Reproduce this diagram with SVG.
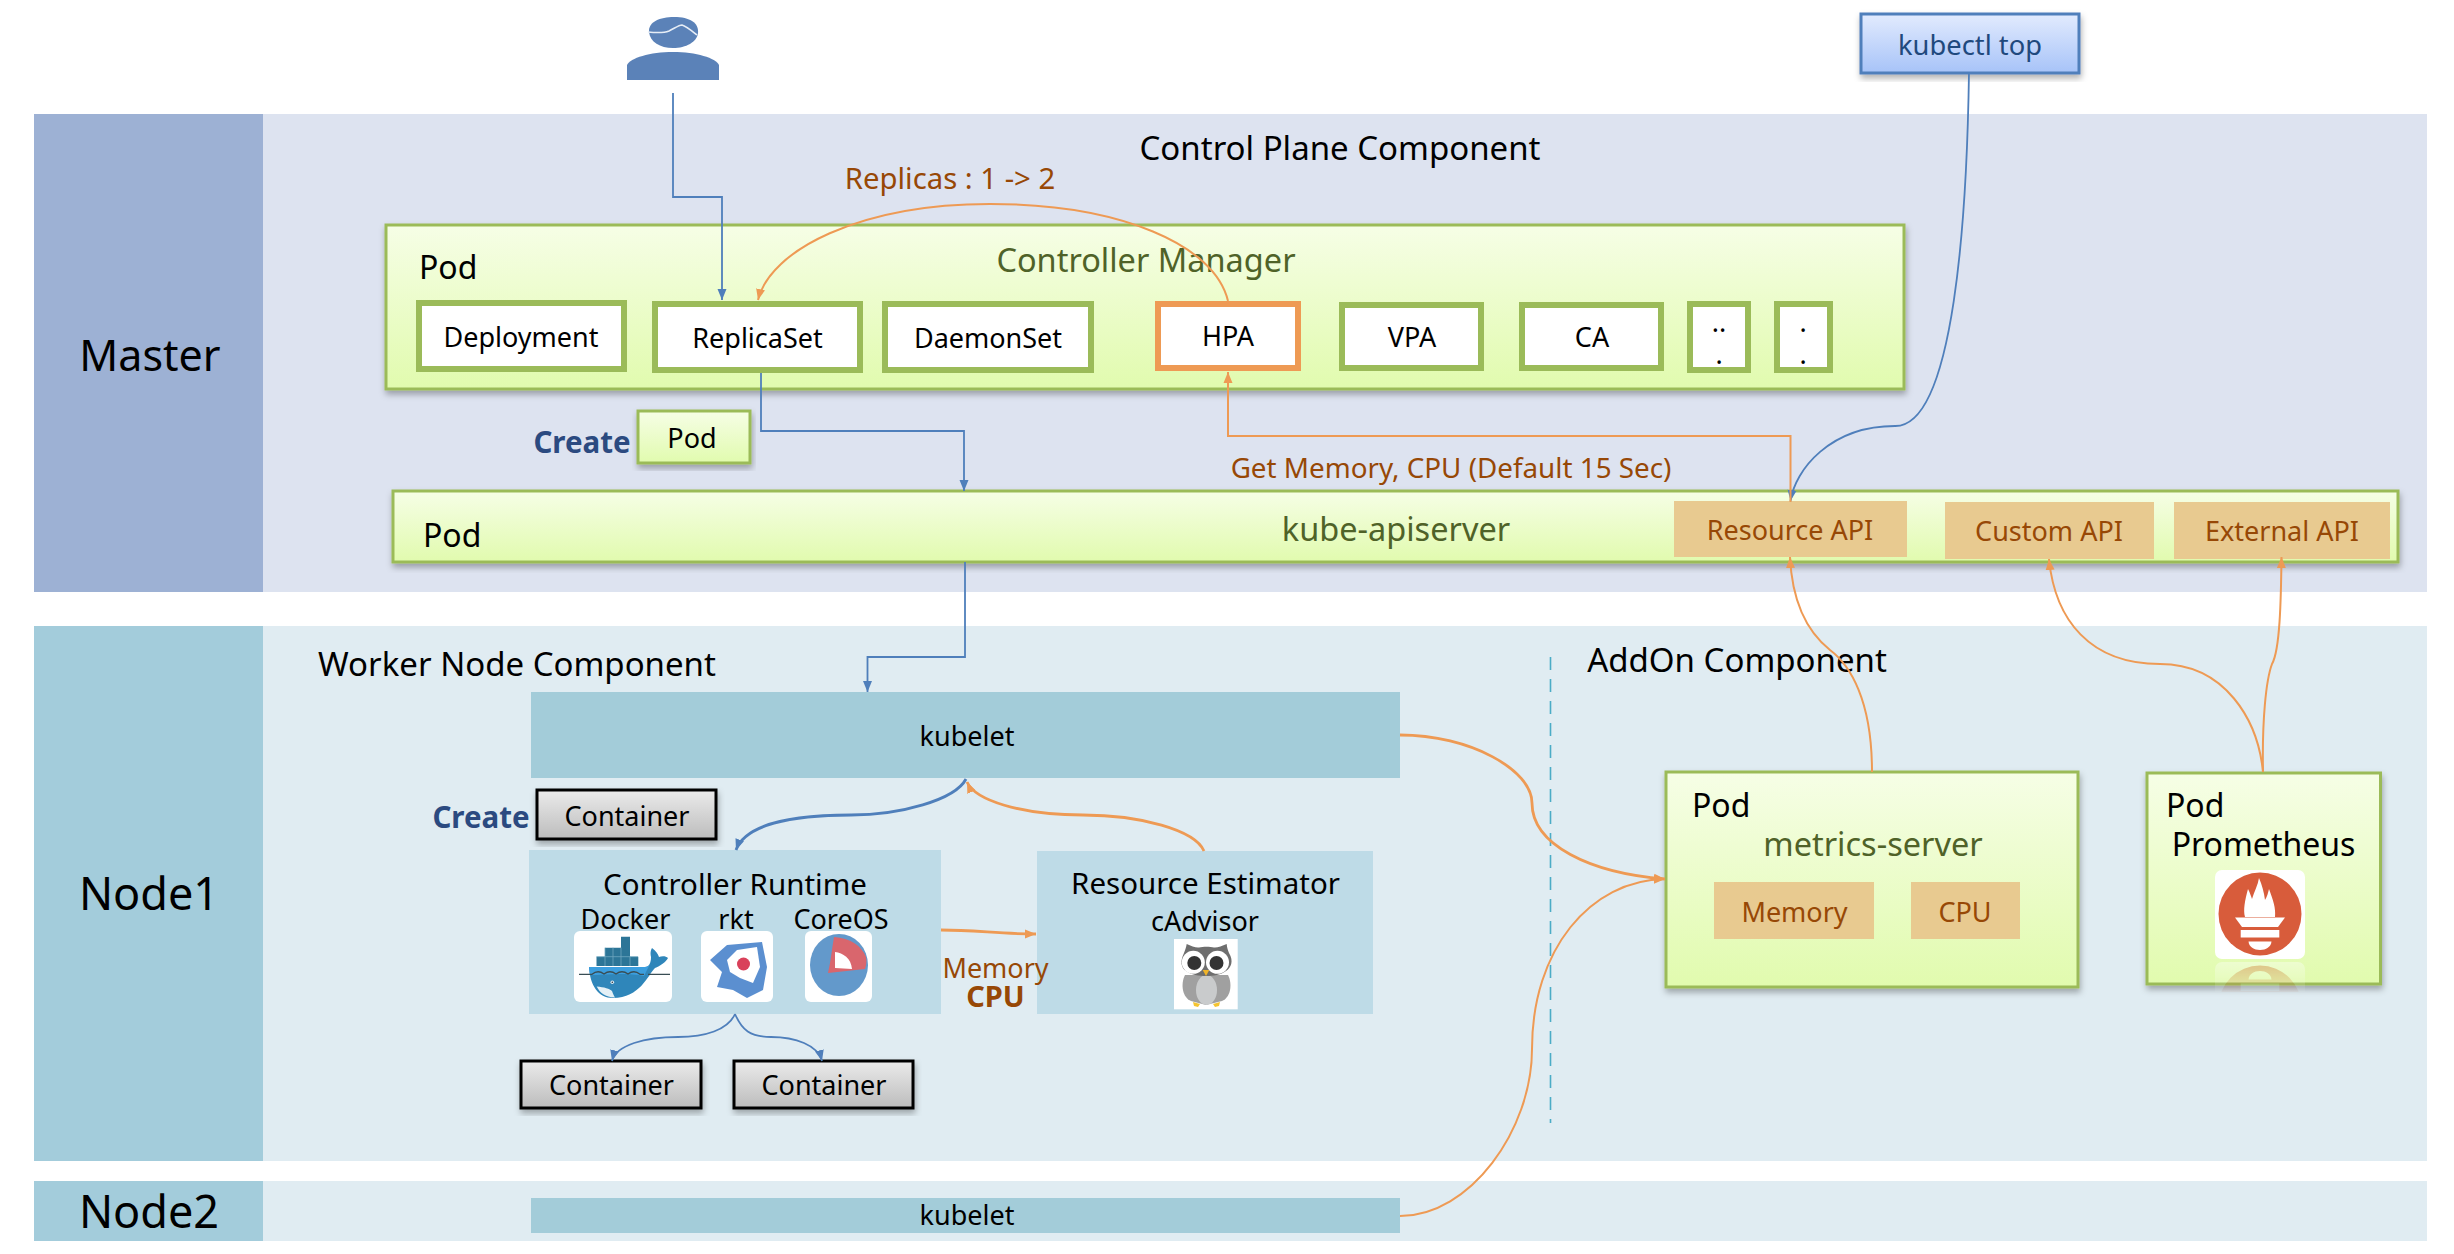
<svg xmlns="http://www.w3.org/2000/svg" xmlns:xlink="http://www.w3.org/1999/xlink" width="2454" height="1254" viewBox="0 0 2454 1254">
<style>
text{font-family:"Noto Sans","Noto Sans CJK KR",sans-serif;fill:#000;text-anchor:middle}
.s45{font-size:45px}.s43{font-size:43px}.s33{font-size:33px}.s325{font-size:32.5px}.s32{font-size:32px}.s30{font-size:29.5px}.s27{font-size:27px}
.start{text-anchor:start}
.brown{fill:#974806}.green{fill:#4f6228}.navy{fill:#1f497d}
.bold{font-weight:700}
.pod{fill:url(#podFill);stroke:#9bbb59;stroke-width:3;filter:url(#shadow)}
.ctl{fill:#fff;stroke:#9bbb59;stroke-width:6}
.api{fill:#e8ca90}
.cont{fill:url(#contFill);stroke:#000;stroke-width:3;filter:url(#shadow)}
.blue{fill:none;stroke:#4f7fbb;stroke-width:1.8;marker-end:url(#aBlue)}
.orange{fill:none;stroke:#ee9a54;stroke-width:2;marker-end:url(#aOrange)}
.thick{stroke-width:2.8}
</style>
<defs>
<linearGradient id="podFill" x1="0" y1="0" x2="0" y2="1"><stop offset="0" stop-color="#f6fee6"/><stop offset="1" stop-color="#e1fbae"/></linearGradient>
<linearGradient id="contFill" x1="0" y1="0" x2="0" y2="1"><stop offset="0" stop-color="#ebebeb"/><stop offset="1" stop-color="#bcbcbc"/></linearGradient>
<linearGradient id="kubectlFill" x1="0" y1="0" x2="0" y2="1"><stop offset="0" stop-color="#e2ebfe"/><stop offset="1" stop-color="#a7c3f8"/></linearGradient>
<linearGradient id="fade" x1="0" y1="961" x2="0" y2="992" gradientUnits="userSpaceOnUse"><stop offset="0" stop-color="#fff" stop-opacity=".38"/><stop offset="1" stop-color="#fff" stop-opacity=".05"/></linearGradient>
<mask id="reflectMask" maskUnits="userSpaceOnUse" x="2200" y="960" width="120" height="32"><rect x="2200" y="960" width="120" height="32" fill="url(#fade)"/></mask>
<filter id="shadow" x="-5%" y="-10%" width="110%" height="125%"><feDropShadow dx="1" dy="4" stdDeviation="3" flood-color="#000" flood-opacity=".3"/></filter>
<marker id="aBlue" markerUnits="userSpaceOnUse" markerWidth="12" markerHeight="10" refX="11" refY="5" orient="auto"><path d="M0 0.5L11 5L0 9.5Z" fill="#4f7fbb"/></marker>
<marker id="aOrange" markerUnits="userSpaceOnUse" markerWidth="12" markerHeight="10" refX="11" refY="5" orient="auto"><path d="M0 0.5L11 5L0 9.5Z" fill="#ee9a54"/></marker>
<g id="promIcon">
<rect x="2215" y="870" width="90" height="89" rx="7" fill="#fff"/>
<circle cx="2260" cy="914" r="41.5" fill="#d85c3b"/>
<path d="M2245 917C2243 910 2245 900 2248 889C2250 893 2251 896 2252 899C2254 892 2258 885 2259 878C2262 885 2264 892 2265 900C2267 897 2268 893 2269 889C2273 900 2276 908 2275 917Z" fill="#fff"/>
<path d="M2235 917.5H2285L2278 927H2242Z" fill="#fff"/>
<rect x="2240.7" y="930" width="38.6" height="7.5" fill="#fff"/>
<path d="M2248.5 941.5H2271.5C2271 947 2266 950 2260 950C2254 950 2249 947 2248.5 941.5Z" fill="#fff"/>
</g>
</defs>
<rect width="2454" height="1254" fill="#fff"/>

<g id="panel-master"><rect x="34" y="114" width="2393" height="478" fill="#dde3f0"/><rect x="34" y="114" width="229" height="478" fill="#9db1d4"/><text x="150" y="371" class="s43">Master</text><text x="1340" y="160" class="s33">Control Plane Component</text></g>
<g id="panel-node1"><rect x="34" y="626" width="2393" height="535" fill="#e0ecf2"/><rect x="34" y="626" width="229" height="535" fill="#a3ccdb"/><text x="149" y="910" class="s45">Node1</text><text x="517" y="676" class="s33">Worker Node Component</text><text x="1737" y="672" class="s33">AddOn Component</text><line x1="1550.5" y1="657" x2="1550.5" y2="1123" stroke="#4bacc6" stroke-width="1.6" stroke-dasharray="13 9"/></g>
<g id="panel-node2"><rect x="34" y="1181" width="2393" height="60" fill="#e0ecf2"/><rect x="34" y="1181" width="229" height="60" fill="#a3ccdb"/><text x="149" y="1228" class="s45">Node2</text></g>

<g id="user"><path d="M627 80V65C630 58 650 52 673 52C696 52 716 58 719 65V80Z" fill="#5b82b8"/><path d="M649 32C648 22 660 17 674 17C690 17 699 23 698 33C697 42 686 48 673 48C660 48 650 42 649 32Z" fill="#5b82b8"/><path d="M648 32C658 33 664 33 669 31C675 28 679 25 682 25C686 26 692 31 697 35" fill="none" stroke="#e6edf6" stroke-width="1.6"/></g>

<g id="kubectl-top"><rect x="1861" y="14" width="218" height="59" fill="url(#kubectlFill)" stroke="#4f7fbb" stroke-width="3" filter="url(#shadow)"/><text x="1970" y="55" class="s27 navy" style="font-size:27.3px">kubectl top</text></g>

<g id="controller-manager"><rect x="386" y="225" width="1518" height="164" class="pod"/><text x="419" y="279" class="s32 start">Pod</text><text x="1146" y="272" class="s325 green">Controller Manager</text></g>
<g id="deployment"><rect x="419" y="303" width="205" height="66" class="ctl"/><text x="521" y="347" class="s27">Deployment</text></g>
<g id="replicaset"><rect x="655" y="304" width="205" height="66" class="ctl"/><text x="757.5" y="348" class="s27">ReplicaSet</text></g>
<g id="daemonset"><rect x="885" y="304" width="206" height="66" class="ctl"/><text x="988" y="348" class="s27">DaemonSet</text></g>
<g id="hpa"><rect x="1158" y="304" width="140" height="64" fill="#fff" stroke="#ee9a54" stroke-width="6"/><text x="1228" y="346" class="s27">HPA</text></g>
<g id="vpa"><rect x="1342" y="305" width="139" height="63" class="ctl"/><text x="1412" y="347" class="s27">VPA</text></g>
<g id="ca"><rect x="1522" y="305" width="139" height="63" class="ctl"/><text x="1592" y="347" class="s27">CA</text></g>
<g id="more-1"><rect x="1690" y="304" width="58" height="66" class="ctl"/><text x="1719" y="332" class="s27">..</text><text x="1719" y="364" class="s27">.</text></g>
<g id="more-2"><rect x="1777" y="304" width="53" height="66" class="ctl"/><text x="1803" y="332" class="s27">.</text><text x="1803" y="364" class="s27">.</text></g>

<g id="create-pod"><text x="582" y="453" class="s30 bold" style="fill:#2b4a80">Create</text><rect x="638" y="411" width="112" height="52" class="pod"/><text x="692" y="448" class="s27">Pod</text></g>

<g id="kube-apiserver"><rect x="393" y="491" width="2005" height="71" class="pod"/><text x="423" y="547" class="s32 start">Pod</text><text x="1396" y="541" class="s325 green">kube-apiserver</text></g>
<g id="resource-api"><rect x="1674" y="501" width="233" height="56" class="api"/><text x="1790" y="540" class="s27 brown">Resource API</text></g>
<g id="custom-api"><rect x="1945" y="502" width="209" height="57" class="api"/><text x="2049" y="541" class="s27 brown">Custom API</text></g>
<g id="external-api"><rect x="2174" y="502" width="216" height="57" class="api"/><text x="2282" y="541" class="s27 brown">External API</text></g>

<g id="kubelet-1"><rect x="531" y="692" width="869" height="86" fill="#a3ccd9"/><text x="967" y="746" class="s27">kubelet</text></g>
<g id="create-container"><text x="481" y="828" class="s30 bold" style="fill:#2b4a80">Create</text><rect x="537" y="790" width="179" height="49" class="cont"/><text x="627" y="826" class="s27">Container</text></g>

<g id="controller-runtime"><rect x="529" y="850" width="412" height="164" fill="#bedbe7"/><text x="735" y="895" class="s30">Controller Runtime</text><text x="625.5" y="929" class="s27">Docker</text><text x="736" y="929" class="s27">rkt</text><text x="841" y="929" class="s27">CoreOS</text>
<g id="icon-docker"><rect x="574" y="931" width="98" height="71" rx="6" fill="#fff"/>
<path d="M596.5 956.7H638.3V966H596.5ZM605 947.7H630V956.7H605ZM621 936.7H630V947.7H621Z" fill="#2c7597"/>
<path d="M605 947.7V966M613 947.7V966M621 947.7V966M630 956.7V966M596.5 956.7H638" stroke="#6fa6bf" stroke-width=".8" fill="none"/>
<path d="M589 967H645C649 967 651 963 651 957C650 952 651 950 652 948C656 951 658 954 659 957C662 956 666 956 668 958C666 962 660 966 655 968C648 975 640 998 613 998C598 998 590 985 589 967Z" fill="#2f86ba"/>
<path d="M589 967H645C647 967 649 966 650 964L644 976C625 972 605 975 590 975Z" fill="#3c9ede"/>
<path d="M596.7 986.5C604 987 610 989 612 991C613 994 614 996 615 997.5C605 997 600 993 596.7 986.5Z" fill="#e4f0f6"/>
<path d="M579 974.3H592C596 971 600 971 604 974C608 971 612 971 616 974C620 971 624 971 628 974C632 971 636 971 640 974.3H644M648 974.3H670" fill="none" stroke="#394d54" stroke-width="1.3"/>
<circle cx="612.3" cy="982.3" r="1.8" fill="#dfeaf0"/><circle cx="612.3" cy="982.3" r=".8" fill="#234"/></g>
<g id="icon-rkt"><rect x="701" y="931" width="72" height="71" rx="6" fill="#fff"/>
<path d="M710 960L727 945L762 942L767 967L763 990L747 998L733 990L717 987L722 972Z" fill="#5b8fd0"/>
<path d="M727 960L737 950L757 947L760 967L753 983L740 978L730 972Z" fill="#fff"/>
<circle cx="743.5" cy="964" r="6.5" fill="#d9415a"/></g>
<g id="icon-coreos"><rect x="805" y="931" width="67" height="71" rx="6" fill="#fff"/>
<ellipse cx="839" cy="965" rx="29" ry="31" fill="#6399cb"/>
<path d="M834 937C850 938 862 946 866 957C867 962 866 966 865 969L828 973C831 960 832 948 834 937Z" fill="#d9666d"/>
<path d="M835 952C843 953 851 958 852 969L835 968Z" fill="#fff"/></g></g>

<g id="resource-estimator"><rect x="1037" y="851" width="336" height="163" fill="#bedbe7"/><text x="1205.5" y="893.5" class="s30">Resource Estimator</text><text x="1205" y="931" class="s27">cAdvisor</text>
<g id="icon-cadvisor"><rect x="1174" y="939" width="63.7" height="70.3" fill="#fff"/>
<path d="M1185 975C1180 985 1183 998 1191 1001L1206 1005L1222 1001C1230 998 1233 985 1228 975Z" fill="#a0a0a0"/>
<ellipse cx="1206.5" cy="990" rx="10.5" ry="15" fill="#c9cbcc"/>
<path d="M1186.7 944C1191 946 1196 948 1199 947.5C1203 946.5 1210 946.5 1214 947.5C1217 948 1222 946 1226.7 944C1227 948 1228 950 1229 953C1234 961 1231 968 1226 971C1221 975 1213 976 1206.7 976C1199 976 1191 975 1186 971C1181 968 1180 961 1184 953C1185 950 1186 948 1186.7 944Z" fill="#6e6e6e"/>
<circle cx="1193.3" cy="962.3" r="11.5" fill="#fff"/><circle cx="1217.5" cy="962.3" r="11.5" fill="#fff"/><circle cx="1194.3" cy="963" r="7" fill="#333"/><circle cx="1216.5" cy="963" r="7" fill="#333"/>
<path d="M1202.7 970H1209.3L1206 976Z" fill="#f0b429"/>
<path d="M1193 1002L1200 1004L1198 1007L1194 1006ZM1213 1004L1220 1002L1219 1006L1215 1007Z" fill="#f4c430"/></g></g>

<g id="memory-cpu-label"><text x="995.5" y="978" class="s27 brown">Memory</text><text x="995.5" y="1007" class="s27 bold brown" style="font-size:29px">CPU</text></g>

<g id="container-1"><rect x="521" y="1061" width="180" height="47" class="cont"/><text x="611.5" y="1095" class="s27">Container</text></g>
<g id="container-2"><rect x="734" y="1061" width="179" height="47" class="cont"/><text x="824" y="1095" class="s27">Container</text></g>

<g id="kubelet-2"><rect x="531" y="1198" width="869" height="35" fill="#a3ccd9"/><text x="967" y="1225" class="s27">kubelet</text></g>

<g id="metrics-server"><rect x="1666" y="772" width="412" height="215" class="pod"/><text x="1692" y="817" class="s32 start">Pod</text><text x="1873" y="856" class="s325 green">metrics-server</text>
<rect x="1714" y="882" width="160" height="57" class="api"/><text x="1794.5" y="922" class="s27 brown">Memory</text>
<rect x="1911" y="882" width="109" height="57" class="api"/><text x="1965" y="922" class="s27 brown">CPU</text></g>

<g id="prometheus"><rect x="2147" y="773" width="233.5" height="211" class="pod"/><text x="2166" y="817" class="s32 start">Pod</text><text x="2263.5" y="856" class="s32">Prometheus</text>
<use xlink:href="#promIcon" href="#promIcon"/>
<g mask="url(#reflectMask)"><use xlink:href="#promIcon" href="#promIcon" transform="matrix(1 0 0 -1 0 1921)"/></g></g>

<g id="connectors">
<path class="blue" d="M673 93V197H722V300"/>
<path class="blue" d="M761 373V431H964V491"/>
<path class="blue" d="M965 562V657H867.5V692"/>
<path class="blue" d="M1969 72C1967 210 1955 427 1895 426C1830 426 1795 470 1790.5 501"/>
<path class="blue thick" d="M966 779C955 800 900 815 851 815C790 815 745 825 736 850"/>
<path class="blue" d="M735 1014C728 1030 705 1037 678 1037C645 1037 616 1045 612 1061"/>
<path class="blue" d="M735 1014C742 1030 750 1037 771 1037C795 1037 818 1045 822 1061"/>
<path class="orange" d="M1228 301C1215 245 1120 204 990 204C860 204 770 250 758 300"/>
<path class="orange" d="M1790.5 502V436H1228V372"/>
<path class="orange" d="M1872 772C1872 700 1850 665 1830 650C1805 630 1792 600 1790 557"/>
<path class="orange" d="M2263 772C2258 720 2225 664 2160 664C2090 664 2055 620 2049 559"/>
<path class="orange" d="M2263 772C2262 720 2266 680 2272 664C2280 650 2281 600 2281.5 557"/>
<path class="orange thick" d="M1400 735C1470 735 1532 770 1532 803C1532 845 1590 873 1665 879"/>
<path class="orange" d="M1400 1216C1470 1216 1532 1130 1532 1049C1532 950 1590 880 1665 879"/>
<path class="orange thick" d="M1204 851C1195 830 1140 815 1083 815C1020 815 975 800 967 782"/>
<path class="orange thick" d="M941 930C975 930 1000 934 1036 934"/>
</g>

<g id="connector-labels">
<text x="950" y="189" class="brown" style="font-size:29.3px">Replicas : 1 -&gt; 2</text>
<text x="1451" y="478" class="brown" style="font-size:27.8px">Get Memory, CPU (Default 15 Sec)</text>
</g>
</svg>
